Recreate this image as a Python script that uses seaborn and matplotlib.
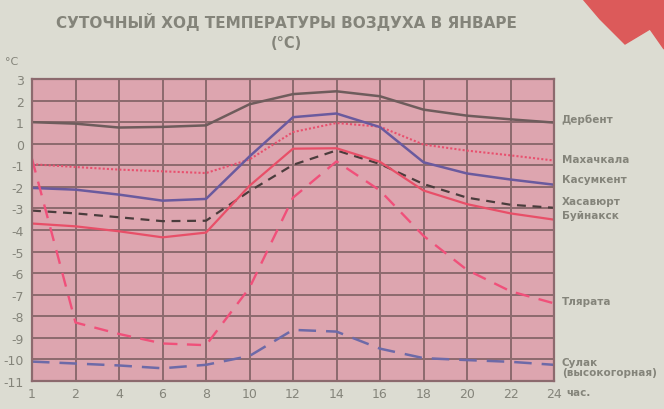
import numpy as np
import pandas as pd
import matplotlib
matplotlib.use("Agg")
import matplotlib.pyplot as plt
import seaborn as sns
from matplotlib.patches import Polygon

# ---------------- data ----------------
hours = ["1", "2", "4", "6", "8", "10", "12", "14", "16", "18", "20", "22", "24"]
stations = ["Дербент", "Махачкала", "Касумкент", "Хасавюрт", "Буйнакск", "Тлярата",
            "Сулак\n(высокогорная)"]
derbent     = [1.0, 0.93, 0.75, 0.78, 0.85, 1.83, 2.3, 2.43, 2.2, 1.58, 1.3, 1.13, 0.98]
makhachkala = [-0.95, -1.08, -1.2, -1.28, -1.36, -0.73, 0.54, 0.96, 0.79, -0.04, -0.32, -0.54, -0.78]
kasumkent   = [-2.05, -2.13, -2.36, -2.64, -2.56, -0.59, 1.23, 1.4, 0.77, -0.86, -1.38, -1.66, -1.9]
khasavyurt  = [-3.1, -3.23, -3.41, -3.59, -3.57, -2.2, -0.98, -0.31, -0.94, -1.87, -2.5, -2.83, -2.97]
buynaksk    = [-3.7, -3.83, -4.06, -4.34, -4.12, -1.95, -0.23, -0.21, -0.84, -2.17, -2.8, -3.23, -3.52]
tlyarata    = [-0.7, -8.29, -8.82, -9.26, -9.34, -6.68, -2.5, -0.82, -2.17, -4.27, -5.85, -6.84, -7.4]
sulak       = [-10.1, -10.19, -10.28, -10.41, -10.25, -9.84, -8.63, -8.71, -9.5, -9.94, -10.03, -10.11, -10.25]
y_ticks = list(range(3, -12, -1))
y_tick_labels = [str(v) for v in y_ticks]

series = [derbent, makhachkala, kasumkent, khasavyurt, buynaksk, tlyarata, sulak]

# ---------------- styles ----------------
colors = ["#6e5c5c", "#e8506e", "#6a5a9e", "#4a3c3c", "#e84f68", "#f0507a", "#6d6aa8"]
styles = ["-", (0, (1, 1)), "-", (0, (4, 3)), "-", (0, (6, 4)), (0, (7, 4))]
widths = [1.8, 1.5, 1.8, 1.6, 1.6, 1.7, 1.8]
label_y = [1.17, -0.71, -1.63, -2.65, -3.32, -7.3, -10.35]

bg = "#dcdcd2"
plot_bg = "#dda5af"
grid_c = "#8c6a6e"
text_c = "#84847a"

sns.set_style("white")
plt.rcParams["font.family"] = ["DejaVu Sans"]

fig = plt.figure(figsize=(6.64, 4.10), dpi=100, facecolor=bg)
ax = fig.add_axes([32 / 664, 1 - 382 / 410, (554 - 32) / 664, (382 - 80) / 410])
ax.set_facecolor(plot_bg)

x = np.arange(len(hours))
for vals, c, ls, lw in zip(series, colors, styles, widths):
    df = pd.DataFrame({"x": x, "y": vals})
    sns.lineplot(data=df, x="x", y="y", ax=ax, color=c, linestyle=ls, linewidth=lw)

ax.set_xlim(0, len(hours) - 1)
ax.set_ylim(-11, 3)
ax.set_xticks(x)
ax.set_xticklabels(hours)
ax.set_yticks(y_ticks)
ax.set_yticklabels(y_tick_labels)
ax.set_xlabel("")
ax.set_ylabel("")
ax.grid(True, color=grid_c, linewidth=1.4)
ax.set_axisbelow(True)
for s in ax.spines.values():
    s.set_color(grid_c)
    s.set_linewidth(1.6)
ax.tick_params(axis="both", length=0, colors=text_c, labelsize=9)
ax.tick_params(axis="x", pad=4)
ax.tick_params(axis="y", pad=6)

ax.text(1.023, -0.036, "час.", transform=ax.transAxes, color=text_c, fontsize=7.5,
        ha="left", va="center", fontweight="bold")

for name, ly in zip(stations, label_y):
    ax.text(len(hours) - 1 + 0.18, ly, name, color=text_c, fontsize=7.5, fontweight="bold",
            ha="left", va="center", clip_on=False, linespacing=1.0)

fig.text(0.432, 0.946, "СУТОЧНЫЙ ХОД ТЕМПЕРАТУРЫ ВОЗДУХА В ЯНВАРЕ", ha="center", va="center",
         color=text_c, fontsize=11, fontweight="bold")
fig.text(0.432, 0.895, "(°C)", ha="center", va="center", color=text_c, fontsize=10.5,
         fontweight="bold")
fig.text(0.018, 0.849, "°C", ha="center", va="center", color=text_c, fontsize=8)

# red corner piece from the scan
poly = Polygon([(583 / 664, 1.0), (1.0, 1.0), (1.0, 1 - 50 / 410), (650 / 664, 1 - 30 / 410),
                (625 / 664, 1 - 45 / 410), (600 / 664, 1 - 20 / 410)],
               closed=True, transform=fig.transFigure, color="#dc5a5a", zorder=0)
fig.patches.append(poly)

fig.savefig("out.png", dpi=100, facecolor=bg)
